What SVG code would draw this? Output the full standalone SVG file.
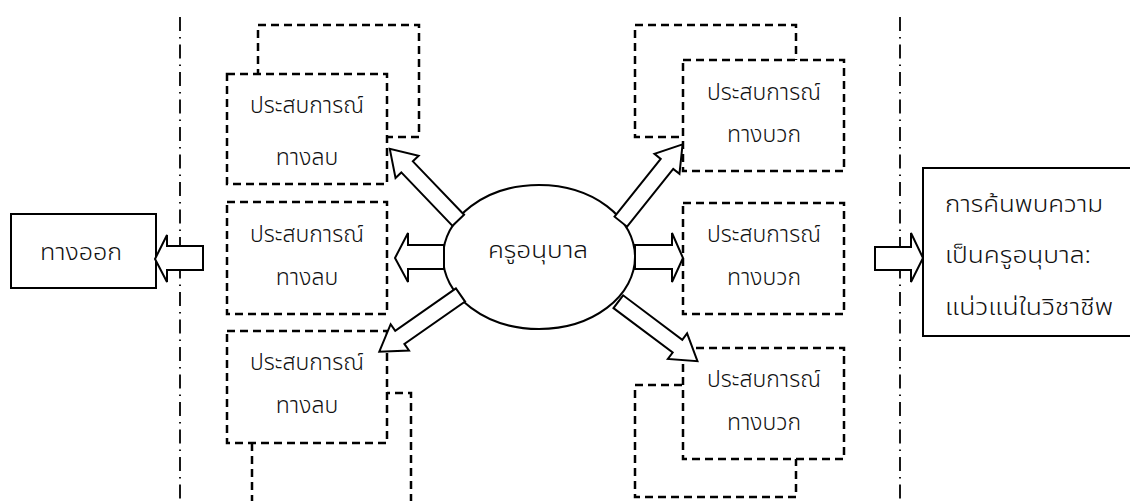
<svg xmlns="http://www.w3.org/2000/svg" width="1130" height="501" viewBox="0 0 1130 501">
<style>
  .bg{fill:#ffffff}
  .dbox{fill:#ffffff;stroke:#000;stroke-width:2.5;stroke-dasharray:8 5}
  .sbox{fill:#ffffff;stroke:#000;stroke-width:2}
  .axis{fill:none;stroke:#000;stroke-width:1.8;stroke-dasharray:14 6 1.5 6}
  .arr{fill:#ffffff;stroke:#000;stroke-width:2;stroke-linejoin:miter}
  .ell{fill:#ffffff;stroke:#000;stroke-width:2}
  text{font-family:"Noto Sans Thai","Noto Sans","DejaVu Sans",sans-serif;font-size:23px;font-weight:300;fill:#111}
  .c{text-anchor:middle}
</style>
<defs>
  <polygon id="diag" points="0,-8 -74,-8 -74,-16 -99,0 -74,16 -74,8 0,8"/>
</defs>
<rect class="bg" x="0" y="0" width="1130" height="501"/>

<g id="axes">
  <line class="axis" x1="180" y1="17" x2="180" y2="501"/>
  <line class="axis" x1="900" y1="17" x2="900" y2="501"/>
</g>

<g id="neg1">
  <rect class="dbox" x="258" y="25" width="161" height="112"/>
  <rect class="dbox" x="227" y="74" width="160" height="110"/>
  <text class="c" x="307" y="113" textLength="114" lengthAdjust="spacingAndGlyphs">ประสบการณ์</text>
  <text class="c" x="307" y="165">ทางลบ</text>
</g>
<g id="neg2">
  <rect class="dbox" x="227" y="202" width="160" height="112"/>
  <text class="c" x="307" y="242" textLength="114" lengthAdjust="spacingAndGlyphs">ประสบการณ์</text>
  <text class="c" x="307" y="285">ทางลบ</text>
</g>
<g id="neg3">
  <rect class="dbox" x="252" y="393" width="159" height="130"/>
  <rect class="dbox" x="227" y="331" width="160" height="112"/>
  <text class="c" x="307" y="370" textLength="114" lengthAdjust="spacingAndGlyphs">ประสบการณ์</text>
  <text class="c" x="307" y="413">ทางลบ</text>
</g>

<g id="pos1">
  <rect class="dbox" x="635" y="25" width="161" height="112"/>
  <rect class="dbox" x="683" y="60" width="161" height="111"/>
  <text class="c" x="764" y="100" textLength="114" lengthAdjust="spacingAndGlyphs">ประสบการณ์</text>
  <text class="c" x="764" y="142">ทางบวก</text>
</g>
<g id="pos2">
  <rect class="dbox" x="683" y="203" width="161" height="111"/>
  <text class="c" x="764" y="242" textLength="114" lengthAdjust="spacingAndGlyphs">ประสบการณ์</text>
  <text class="c" x="764" y="285">ทางบวก</text>
</g>
<g id="pos3">
  <rect class="dbox" x="635" y="385" width="161" height="112"/>
  <rect class="dbox" x="683" y="348" width="161" height="111"/>
  <text class="c" x="764" y="387" textLength="114" lengthAdjust="spacingAndGlyphs">ประสบการณ์</text>
  <text class="c" x="764" y="430">ทางบวก</text>
</g>

<g id="exit">
  <rect class="sbox" x="11" y="214" width="145" height="74"/>
  <text class="c" x="81" y="260" textLength="82" lengthAdjust="spacingAndGlyphs">ทางออก</text>
</g>

<g id="result">
  <rect class="sbox" x="923" y="168" width="220" height="168"/>
  <text x="945" y="212" textLength="158" lengthAdjust="spacingAndGlyphs">การค้นพบความ</text>
  <text x="945" y="263" textLength="146" lengthAdjust="spacingAndGlyphs">เป็นครูอนุบาล:</text>
  <text x="945" y="315" textLength="168" lengthAdjust="spacingAndGlyphs">แน่วแน่ในวิชาชีพ</text>
</g>

<g id="center">
  <ellipse class="ell" cx="539" cy="257" rx="96" ry="72"/>
  <text class="c" x="538" y="258" textLength="100" lengthAdjust="spacingAndGlyphs">ครูอนุบาล</text>
</g>

<g id="connectors">
  <polygon class="arr" points="444,245 408,245 408,233 395,258 408,282 408,269 444,269"/>
  <polygon class="arr" points="635,245 672,245 672,233 683,258 672,282 672,269 635,269"/>
  <polygon class="arr" points="203,246 167,246 167,235 155,259 167,282 167,270 203,270"/>
  <polygon class="arr" points="875,247 911,247 911,233 923,258 911,282 911,270 875,270"/>
  <use href="#diag" class="arr" transform="translate(458.3,220.3) rotate(46.2)"/>
  <use href="#diag" class="arr" transform="translate(620.8,221.7) rotate(128.6)"/>
  <use href="#diag" class="arr" transform="translate(460.5,295) rotate(-34.9)"/>
  <use href="#diag" class="arr" transform="translate(618.3,301.7) rotate(-143.1)"/>
</g>
</svg>
